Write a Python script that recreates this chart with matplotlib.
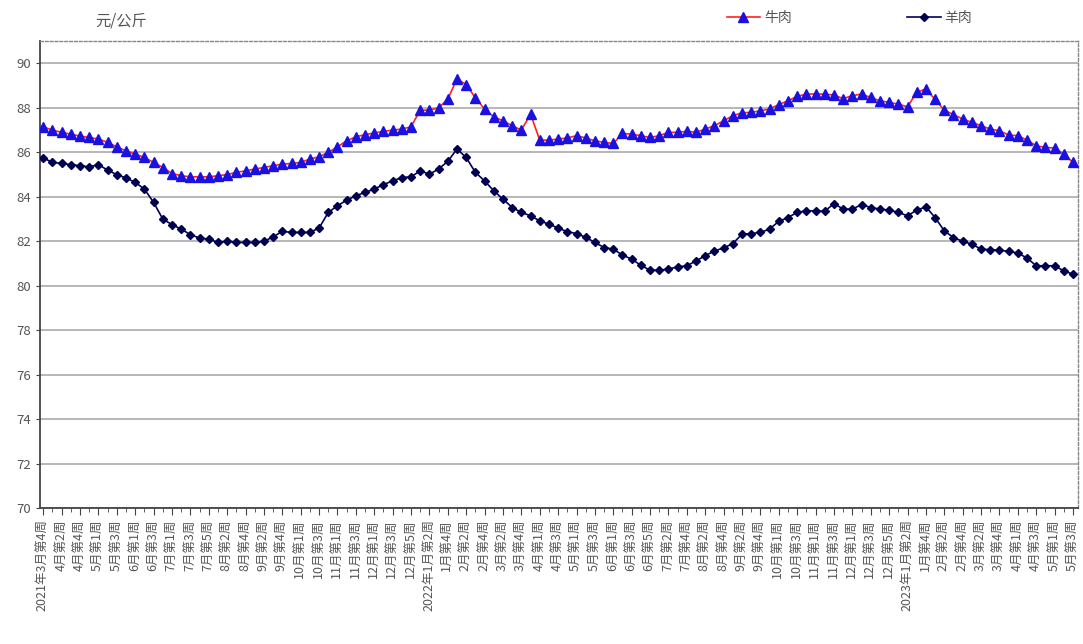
import numpy as np
import matplotlib
matplotlib.use("Agg")
from matplotlib import pyplot as plt
from matplotlib.ticker import MultipleLocator

plt.rcParams['font.family'] = ['Noto Sans CJK SC', 'DejaVu Sans']

# weekly prices, 元/公斤, 2021年3月第4周 .. 2023年5月第3周 (113 weeks)
beef = [
    87.15, 87.0, 86.9, 86.82, 86.73, 86.67, 86.6, 86.45, 86.25, 86.07,
    85.92, 85.77, 85.55, 85.32, 85.05, 84.95, 84.9, 84.9, 84.9, 84.95,
    85.0, 85.1, 85.17, 85.25, 85.32, 85.4, 85.47, 85.5, 85.55, 85.7,
    85.8, 86.0, 86.25, 86.52, 86.7, 86.8, 86.87, 86.95, 87.0, 87.05,
    87.15, 87.9, 87.9, 88.0, 88.4, 89.3, 89.05, 88.45, 87.95, 87.6,
    87.42, 87.2, 87.0, 87.72, 86.55, 86.55, 86.6, 86.65, 86.75, 86.65,
    86.52, 86.45, 86.4, 86.85, 86.82, 86.75, 86.67, 86.75, 86.9, 86.9,
    86.95, 86.9, 87.05, 87.2, 87.42, 87.65, 87.78, 87.8, 87.87, 87.95,
    88.15, 88.32, 88.52, 88.62, 88.63, 88.62, 88.58, 88.42, 88.55, 88.62,
    88.47, 88.32, 88.25, 88.17, 88.05, 88.7, 88.85, 88.38, 87.9, 87.7,
    87.5, 87.35, 87.2, 87.05, 86.97, 86.78, 86.75, 86.55, 86.3, 86.22,
    86.2, 85.92, 85.55,
]
mutton = [
    85.75, 85.55, 85.5, 85.45, 85.4, 85.35, 85.45, 85.2, 85.0, 84.85,
    84.65, 84.35, 83.75, 83.0, 82.75, 82.55, 82.3, 82.15, 82.1, 81.95,
    82.0, 81.95, 81.95, 81.95, 82.0, 82.2, 82.45, 82.4, 82.4, 82.4,
    82.6, 83.3, 83.6, 83.85, 84.05, 84.2, 84.35, 84.55, 84.72, 84.87,
    84.9, 85.17, 85.02, 85.25, 85.6, 86.15, 85.77, 85.1, 84.72, 84.27,
    83.9, 83.52, 83.3, 83.15, 82.92, 82.77, 82.6, 82.43, 82.35, 82.18,
    81.95, 81.72, 81.65, 81.38, 81.2, 80.92, 80.7, 80.7, 80.75, 80.85,
    80.9, 81.12, 81.35, 81.57, 81.7, 81.9, 82.32, 82.35, 82.4, 82.55,
    82.9, 83.07, 83.3, 83.37, 83.37, 83.35, 83.7, 83.45, 83.45, 83.65,
    83.52, 83.45, 83.4, 83.3, 83.15, 83.4, 83.55, 83.07, 82.47, 82.17,
    82.0, 81.87, 81.65, 81.62, 81.6, 81.55, 81.47, 81.25, 80.9, 80.9,
    80.9, 80.67, 80.52,
]

# every second week is labelled
tick_labels = [
    "2021年3月第4周", "4月第2周", "4月第4周", "5月第1周", "5月第3周", "6月第1周",
    "6月第3周", "7月第1周", "7月第3周", "7月第5周", "8月第2周", "8月第4周",
    "9月第2周", "9月第4周", "10月第1周", "10月第3周", "11月第1周", "11月第3周",
    "12月第1周", "12月第3周", "12月第5周", "2022年1月第2周", "1月第4周", "2月第2周",
    "2月第4周", "3月第2周", "3月第4周", "4月第1周", "4月第3周", "5月第1周",
    "5月第3周", "6月第1周", "6月第3周", "6月第5周", "7月第2周", "7月第4周",
    "8月第2周", "8月第4周", "9月第2周", "9月第4周", "10月第1周", "10月第3周",
    "11月第1周", "11月第3周", "12月第1周", "12月第3周", "12月第5周", "2023年1月第2周",
    "1月第4周", "2月第2周", "2月第4周", "3月第2周", "3月第4周", "4月第1周",
    "4月第3周", "5月第1周", "5月第3周",
]

x = np.arange(len(beef))

fig = plt.figure(figsize=(10.83, 6.44), dpi=100)
ax = fig.add_axes([0.037, 0.211, 0.958, 0.725])

ax.plot(x, beef, color="#ff2020", lw=1.2, marker="^", ms=7.5,
        mfc="#1a10e0", mec="#1a10e0", label="牛肉", zorder=3)
ax.plot(x, mutton, color="#000060", lw=1.2, marker="D", ms=4,
        mfc="#000050", mec="#000050", label="羊肉", zorder=3)

ax.set_ylim(70, 91)
ax.set_xlim(-0.35, len(beef) - 0.5)
ax.set_yticks(np.arange(70, 91, 2))
ax.tick_params(axis="y", labelsize=9.5, labelcolor="#555555", length=3, color="#444444")
ax.yaxis.grid(True, color="#aaaaaa", lw=1.2)
ax.set_axisbelow(True)

ax.set_xticks(x[::2])
ax.set_xticklabels(tick_labels, rotation=90, fontsize=9, color="#555555", va="top")
ax.xaxis.set_minor_locator(MultipleLocator(1))
ax.tick_params(axis="x", which="major", length=5, color="#444444", pad=3)
ax.tick_params(axis="x", which="minor", length=3, color="#444444")

for s in ["top", "right"]:
    ax.spines[s].set_linestyle((0, (2, 1.5)))
    ax.spines[s].set_color("#888888")
    ax.spines[s].set_linewidth(1.0)
for s in ["left", "bottom"]:
    ax.spines[s].set_color("#444444")
    ax.spines[s].set_linewidth(1.3)

fig.text(0.088, 0.968, "元/公斤", fontsize=11, color="#555555", ha="left", va="center")

fig.legend(loc="center left", bbox_to_anchor=(0.671, 0.972), ncol=2, frameon=False,
           fontsize=10, handlelength=2.4, handletextpad=0.3, columnspacing=8.3,
           borderaxespad=0, borderpad=0, labelcolor="#555555")

plt.savefig("out.png", dpi=100)
